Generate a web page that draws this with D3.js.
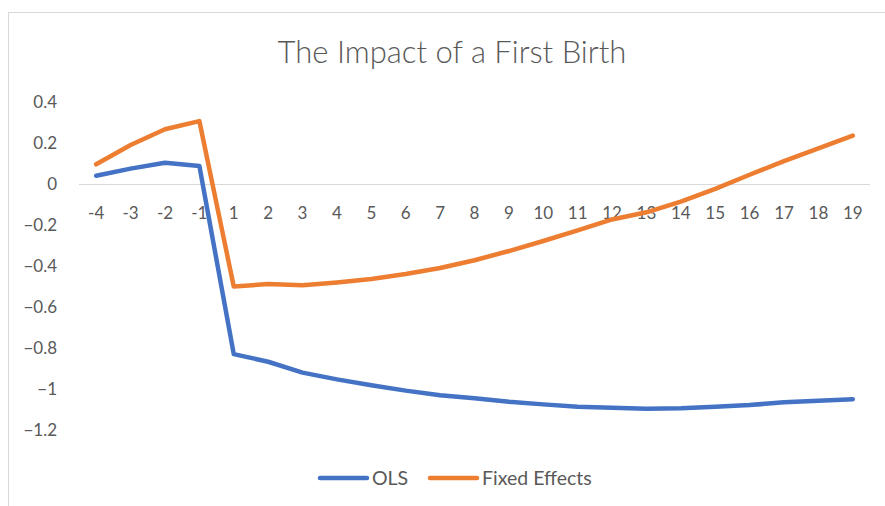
<!DOCTYPE html>
<html>
<head>
<meta charset="utf-8">
<script src="https://cdn.jsdelivr.net/npm/d3@7"></script>
<style>
  body { margin: 0; background: #fff; }
  svg { display: block; font-family: Lato, "Open Sans", sans-serif; }
</style>
</head>
<body>
<div id="chart"></div>
<script>
// years relative to first birth
const categories = ['-4','-3','-2','-1','1','2','3','4','5','6','7','8','9','10','11','12','13','14','15','16','17','18','19'];
const olsValues = [0.04, 0.075, 0.104, 0.088, -0.83, -0.867, -0.92, -0.953, -0.982, -1.008, -1.03, -1.045, -1.062, -1.075, -1.086, -1.091, -1.096, -1.094, -1.087, -1.078, -1.065, -1.057, -1.05];
const feValues = [0.096, 0.19, 0.267, 0.307, -0.5, -0.488, -0.494, -0.48, -0.463, -0.439, -0.41, -0.372, -0.327, -0.278, -0.226, -0.173, -0.138, -0.086, -0.024, 0.045, 0.112, 0.174, 0.236];
const yTicks = [0.4, 0.2, 0, -0.2, -0.4, -0.6, -0.8, -1, -1.2];

const series = [
    {name: 'OLS', values: olsValues, color: '#4472C4'},
    {name: 'Fixed Effects', values: feValues, color: '#ED7D31'}
];

const width = 885;
const height = 506;
const textColor = '#595959';

const svg = d3.select('#chart')
    .append('svg')
    .attr('width', width)
    .attr('height', height);

// chart area border
svg.append('rect')
    .attr('x', 8.5).attr('y', 12.5)
    .attr('width', 900).attr('height', 520)
    .attr('fill', 'none')
    .attr('stroke', '#d9d9d9')
    .attr('stroke-width', 1);

// title
svg.append('text')
    .attr('x', 452)
    .attr('y', 63)
    .attr('text-anchor', 'middle')
    .attr('fill', textColor)
    .style('font-size', '31px')
    .style('font-weight', '300')
    .text('The Impact of a First Birth');

const x = d3.scaleBand()
    .domain(categories)
    .range([79, 870])
    .padding(0);

const y = d3.scaleLinear()
    .domain([-1.2, 0.4])
    .range([430, 102]);

const cx = d => x(d) + x.bandwidth() / 2;

// y labels
svg.append('g')
    .selectAll('text')
    .data(yTicks)
    .join('text')
    .attr('x', 57)
    .attr('y', d => y(d))
    .attr('dy', '0.35em')
    .attr('text-anchor', 'end')
    .attr('fill', textColor)
    .style('font-size', '17px')
    .text(d => d3.format('')(d));

// horizontal axis at zero
svg.append('line')
    .attr('x1', 79).attr('x2', 870)
    .attr('y1', y(0) + 0.5).attr('y2', y(0) + 0.5)
    .attr('stroke', '#d9d9d9')
    .attr('stroke-width', 1);

// x labels below the zero line
svg.append('g')
    .selectAll('text')
    .data(categories)
    .join('text')
    .attr('x', d => cx(d))
    .attr('y', y(0) + 29)
    .attr('dy', '0.35em')
    .attr('text-anchor', 'middle')
    .attr('fill', textColor)
    .style('font-size', '17px')
    .text(d => d);

const line = d3.line()
    .x((d, i) => cx(categories[i]))
    .y(d => y(d));

series.forEach(s => {
    svg.append('path')
        .datum(s.values)
        .attr('d', line)
        .attr('fill', 'none')
        .attr('stroke', s.color)
        .attr('stroke-width', 4.5)
        .attr('stroke-linejoin', 'round')
        .attr('stroke-linecap', 'round');
});

// legend
const legendPos = [{x: 320}, {x: 430}];
series.forEach((s, i) => {
    const g = svg.append('g')
        .attr('transform', `translate(${legendPos[i].x}, 478)`);
    g.append('line')
        .attr('x1', 0).attr('x2', 47)
        .attr('stroke', s.color)
        .attr('stroke-width', 4.5)
        .attr('stroke-linecap', 'round');
    g.append('text')
        .attr('x', 52)
        .attr('dy', '0.35em')
        .attr('fill', textColor)
        .style('font-size', '19.5px')
        .text(s.name);
});
</script>
</body>
</html>
